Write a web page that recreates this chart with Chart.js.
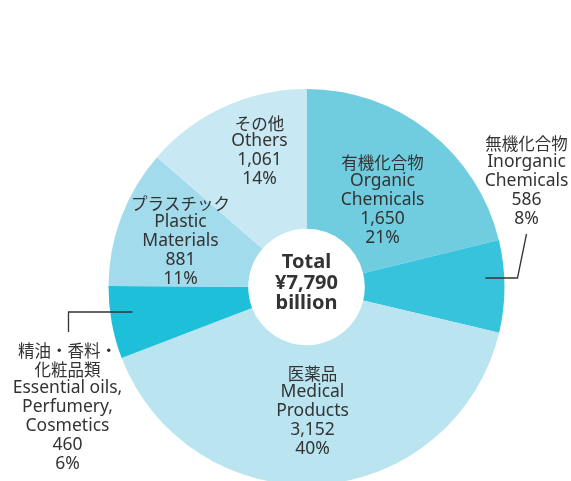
<!DOCTYPE html>
<html>
<head>
<meta charset="utf-8">
<script src="https://cdn.jsdelivr.net/npm/chart.js@4"></script>
<style>
html,body{margin:0;padding:0;background:#fff;overflow:hidden;}
#wrap{position:relative;width:571px;height:490px;}
</style>
</head>
<body>
<div id="wrap"><canvas id="c" width="571" height="490"></canvas></div>
<script>
// ---- data ----
const categoriesJa = [["有機化合物"], ["無機化合物"], ["医薬品"], ["精油・香料・", "化粧品類"], ["プラスチック"], ["その他"]];
const categoriesEn = [["Organic", "Chemicals"], ["Inorganic", "Chemicals"], ["Medical", "Products"], ["Essential oils,", "Perfumery,", "Cosmetics"], ["Plastic", "Materials"], ["Others"]];
const values = [1650, 586, 3152, 460, 881, 1061];
const centerTitle = ["Total", "¥7,790", "billion"];

// ---- style / layout ----
const colors = ["#70CDE0", "#38C3DC", "#B9E4F0", "#1EBFD9", "#A2DBEB", "#C8E8F3"];
// label anchors relative to the doughnut centre (px)
const labelAnchors = [[76, -87], [220, -106], [6, 124], [-239, 120], [-126, -46], [-47, -136]];
// leader lines relative to centre
const leaders = [null, [[179, -9], [211, -9], [220, -53]], null, [[-174, 25], [-238, 25], [-238, 45]], null, null];

const total = values.reduce((a, b) => a + b, 0);
const FONT = '"Noto Sans", "Noto Sans CJK JP", sans-serif';
const FONT_JA = '"Noto Sans CJK JP", sans-serif';

const labelPlugin = {
  id: 'labels',
  afterDatasetsDraw(chart) {
    const ctx = chart.ctx;
    const meta = chart.getDatasetMeta(0);
    const arc0 = meta.data[0];
    const cx = arc0.x, cy = arc0.y;
    ctx.save();
    // leader lines
    ctx.strokeStyle = '#333';
    ctx.lineWidth = 1.3;
    leaders.forEach(l => {
      if (!l) return;
      ctx.beginPath();
      l.forEach((p, i) => {
        if (i === 0) ctx.moveTo(cx + p[0], cy + p[1]); else ctx.lineTo(cx + p[0], cy + p[1]);
      });
      ctx.stroke();
    });
    // slice labels
    ctx.fillStyle = '#333';
    ctx.textAlign = 'center';
    ctx.textBaseline = 'middle';
    const lh = 19;
    values.forEach((v, i) => {
      const ja = categoriesJa[i];
      const lines = [...ja, ...categoriesEn[i], v.toLocaleString('en-US'), Math.round(v / total * 100) + '%'];
      const ax = cx + labelAnchors[i][0], ay = cy + labelAnchors[i][1];
      const y0 = ay - (lines.length - 1) * lh / 2;
      lines.forEach((t, k) => {
        ctx.font = k < ja.length ? '16.5px ' + FONT_JA : '17.5px ' + FONT;
        ctx.fillText(t, ax, y0 + k * lh + (k < ja.length ? 1 : 0));
      });
    });
    // centre text
    ctx.font = 'bold 20px ' + FONT;
    const clh = 20.5;
    centerTitle.forEach((t, k) => {
      ctx.fillText(t, cx, cy - clh + k * clh - 4);
    });
    ctx.restore();
  }
};

new Chart(document.getElementById('c'), {
  type: 'doughnut',
  data: {
    labels: categoriesEn.map(a => a.join(' ')),
    datasets: [{
      data: values,
      backgroundColor: colors,
      borderWidth: 0,
      hoverOffset: 0
    }]
  },
  options: {
    responsive: false,
    animation: false,
    radius: 198,
    cutout: 58,
    rotation: 0,
    layout: { padding: { left: 109, right: 67, top: 90, bottom: 6 } },
    plugins: { legend: { display: false }, tooltip: { enabled: false } }
  },
  plugins: [labelPlugin]
});
</script>
</body>
</html>
